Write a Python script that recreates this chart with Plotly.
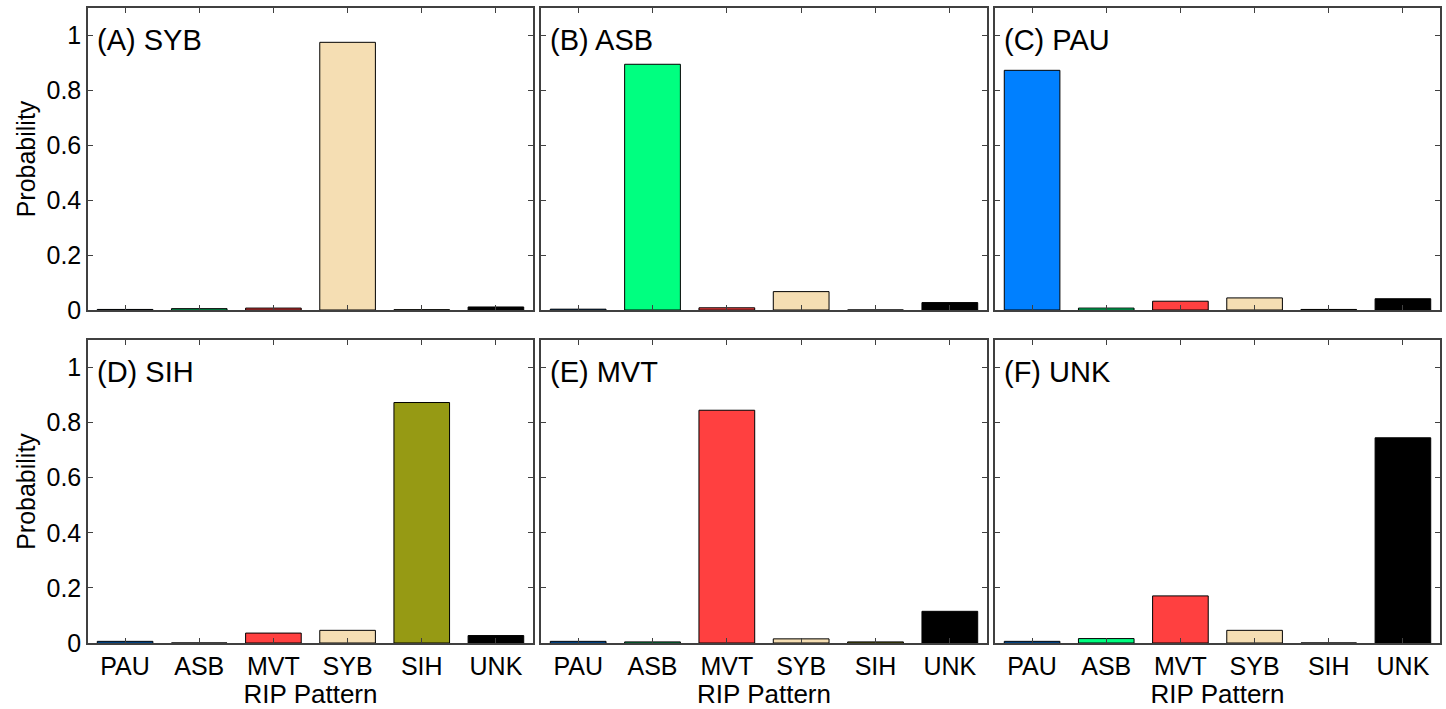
import plotly.graph_objects as go

categories = ["PAU", "ASB", "MVT", "SYB", "SIH", "UNK"]
bar_colors = ["#0080FF", "#00FF80", "#FF4040", "#F5DEB3", "#969A14", "#000000"]

panel_titles = ["(A) SYB", "(B) ASB", "(C) PAU", "(D) SIH", "(E) MVT", "(F) UNK"]

vals_A = [0.002, 0.005, 0.007, 0.975, 0.001, 0.011]
vals_B = [0.003, 0.895, 0.008, 0.067, 0.0, 0.027]
vals_C = [0.873, 0.007, 0.032, 0.044, 0.002, 0.041]
vals_D = [0.006, 0.0, 0.036, 0.046, 0.873, 0.027]
vals_E = [0.006, 0.004, 0.845, 0.015, 0.004, 0.115]
vals_F = [0.006, 0.016, 0.171, 0.046, 0.0, 0.745]

y_ticks = [0, 0.2, 0.4, 0.6, 0.8, 1]
y_ticklabels = ["0", "0.2", "0.4", "0.6", "0.8", "1"]

all_vals = [vals_A, vals_B, vals_C, vals_D, vals_E, vals_F]

W, H = 1446, 709
col_px = [(88, 533), (541, 987), (995, 1440)]
row_px = [(8, 310), (340, 643)]

FONT = "Arial, Liberation Sans, sans-serif"
frame = "#404040"

fig = go.Figure()
layout = dict(
    width=W, height=H,
    margin=dict(l=0, r=0, t=0, b=0, autoexpand=False),
    paper_bgcolor="white", plot_bgcolor="white",
    showlegend=False,
    font=dict(family=FONT, size=25, color="black"),
    bargap=0.25,
)
annotations = []
for i, vals in enumerate(all_vals):
    r, c = divmod(i, 3)
    n = i + 1
    xa = "x" if n == 1 else f"x{n}"
    ya = "y" if n == 1 else f"y{n}"
    fig.add_trace(go.Bar(
        x=categories, y=vals, xaxis=xa, yaxis=ya,
        marker=dict(color=bar_colors, line=dict(color="black", width=1)),
        width=0.75, hoverinfo="x+y",
    ))
    x0, x1 = col_px[c]
    yt, yb = row_px[r]
    xkey = "xaxis" if n == 1 else f"xaxis{n}"
    ykey = "yaxis" if n == 1 else f"yaxis{n}"
    layout[xkey] = dict(
        domain=[x0 / W, x1 / W], anchor=ya, automargin=False,
        type="category", categoryorder="array", categoryarray=categories,
        range=[-0.5, 5.5],
        showline=True, linecolor=frame, linewidth=1.5, mirror="ticks",
        ticks="inside", ticklen=5, tickcolor=frame,
        showgrid=False, zeroline=False,
        showticklabels=(r == 1),
        tickfont=dict(size=25, family=FONT),
        title=dict(text="RIP Pattern" if r == 1 else "", font=dict(size=26, family=FONT), standoff=2),
    )
    layout[ykey] = dict(
        domain=[1 - yb / H, 1 - yt / H], anchor=xa, automargin=False,
        range=[0, 1.1],
        tickvals=y_ticks, ticktext=y_ticklabels,
        showline=True, linecolor=frame, linewidth=1.5, mirror="ticks",
        ticks="inside", ticklen=5, tickcolor=frame,
        showgrid=False, zeroline=False,
        showticklabels=(c == 0),
        tickfont=dict(size=25, family=FONT),
        title=dict(text="Probability" if c == 0 else "", font=dict(size=25, family=FONT), standoff=4),
    )
    annotations.append(dict(
        text=panel_titles[i], xref=f"{xa} domain", yref=f"{ya} domain",
        x=0.016, y=0.895, xanchor="left", yanchor="middle",
        showarrow=False, font=dict(size=29, family=FONT, color="black"),
    ))
layout["annotations"] = annotations
fig.update_layout(**layout)
fig.write_html("out.html")
